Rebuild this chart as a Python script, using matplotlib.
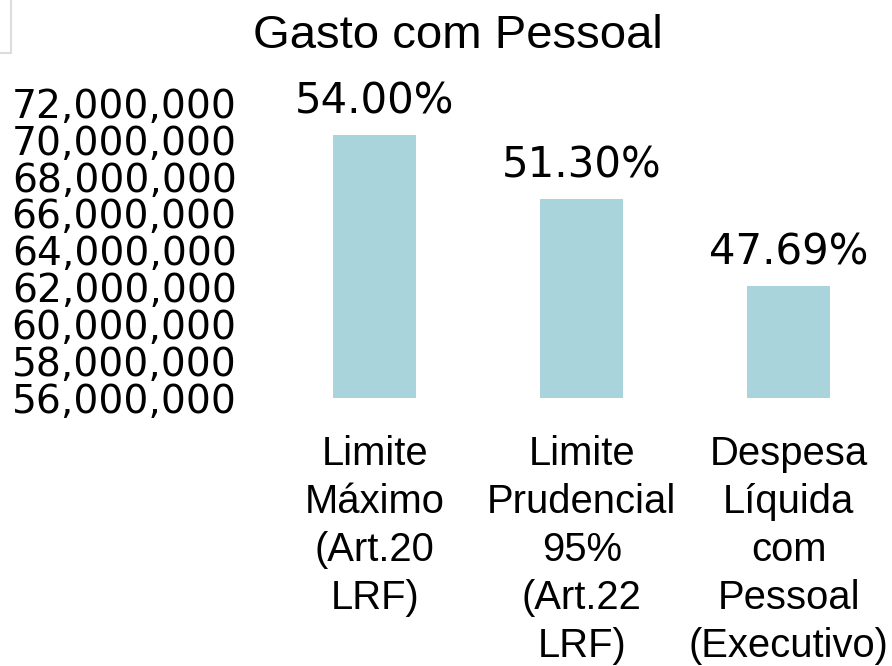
import matplotlib
matplotlib.use("Agg")
import matplotlib.pyplot as plt
from matplotlib.patches import Rectangle
from matplotlib.ticker import FuncFormatter

title = "Gasto com Pessoal"
categories = [
    "Limite\nMáximo\n(Art.20\nLRF)",
    "Limite\nPrudencial\n95%\n(Art.22\nLRF)",
    "Despesa\nLíquida\ncom\nPessoal\n(Executivo)",
]
values = [70_280_000, 66_770_000, 62_060_000]
pct_labels = ["54.00%", "51.30%", "47.69%"]
y_ticks = [56_000_000, 58_000_000, 60_000_000, 62_000_000, 64_000_000,
           66_000_000, 68_000_000, 70_000_000, 72_000_000]

bar_color = "#aad4dc"

fig = plt.figure(figsize=(8.92, 6.66), dpi=100)
ax = fig.add_axes([0.3043, 0.4029, 0.6957, 0.4425])

x = list(range(len(categories)))
bars = ax.bar(x, values, width=0.4, color=bar_color, zorder=2)

ax.set_xlim(-0.5, len(categories) - 0.5)
ax.set_ylim(y_ticks[0], y_ticks[-1])
ax.set_yticks(y_ticks)
ax.yaxis.set_major_formatter(FuncFormatter(lambda v, p: f"{int(v):,}"))
ax.set_xticks(x)
ax.set_xticklabels(categories, family="Liberation Sans", fontsize=28.8,
                   linespacing=1.33, va="top")
for lab in ax.get_yticklabels():
    lab.set_family("DejaVu Sans")
    lab.set_fontsize(28.2)
ax.tick_params(axis="y", length=0, pad=25)
ax.tick_params(axis="x", length=0, pad=27)
for s in ax.spines.values():
    s.set_visible(False)

for b, lbl in zip(bars, pct_labels):
    ax.annotate(lbl, (b.get_x() + b.get_width() / 2, b.get_height()),
                xytext=(0, 9), textcoords="offset points",
                ha="center", va="bottom", fontsize=30.2,
                family="DejaVu Sans", clip_on=False)

fig.text(458 / 892, 1 - 36 / 666, title, ha="center", va="center",
         fontsize=34, family="Liberation Sans")

# small clipped box in the top-left corner
fig.patches.append(Rectangle((-0.01, 1 - 53 / 666), 0.0225, 0.1,
                             transform=fig.transFigure, fill=False,
                             edgecolor="#dddddd", linewidth=1.5))

fig.savefig("out.png", dpi=100)
